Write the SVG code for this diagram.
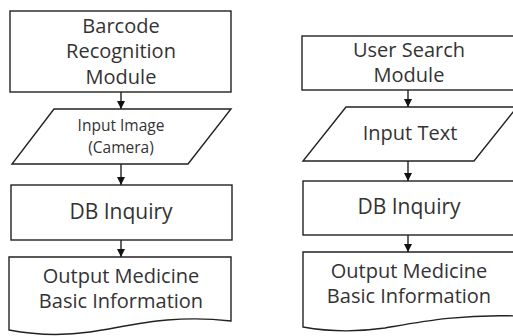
<svg xmlns="http://www.w3.org/2000/svg" width="513" height="336" viewBox="0 0 513 336">
<style>
.s{fill:#fff;stroke:#222;stroke-width:1.4}
.t{font-family:"Open Sans","Noto Sans",sans-serif;font-size:20px;fill:#333;text-anchor:middle}
.sm{font-size:15.5px}
.db{font-size:21px}
.c{stroke:#222;stroke-width:1.4;fill:none;marker-end:url(#a)}
</style>
<defs>
<marker id="a" viewBox="0 0 10 10" refX="10" refY="5" markerWidth="8" markerHeight="8" markerUnits="userSpaceOnUse" orient="auto">
<path d="M0,0 L10,5 L0,10 Z" fill="#111"/>
</marker>
</defs>
<rect width="513" height="336" fill="#fff"/>
<g id="barcode">
<rect class="s" x="10" y="11" width="221" height="81"/>
<text class="t" x="121" y="33">Barcode</text>
<text class="t" x="121" y="58">Recognition</text>
<text class="t" x="121" y="84">Module</text>
</g>
<g id="input-image">
<polygon class="s" points="54,109 231,109 188,164 12,164"/>
<text class="t sm" x="121" y="131">Input Image</text>
<text class="t sm" x="121" y="153">(Camera)</text>
</g>
<g id="db-left">
<rect class="s" x="11" y="185" width="221" height="55"/>
<text class="t db" x="121" y="219">DB Inquiry</text>
</g>
<g id="output-left">
<path class="s" d="M9,257 H231 V321 C170,314 130,326 90,332 C55,337 30,334 9,330 Z"/>
<text class="t" x="121" y="283">Output Medicine</text>
<text class="t" x="121" y="308">Basic Information</text>
</g>
<g id="user-search">
<rect class="s" x="302" y="36" width="214" height="54"/>
<text class="t" x="409" y="57">User Search</text>
<text class="t" x="409" y="82">Module</text>
</g>
<g id="input-text">
<polygon class="s" points="346,107 517,107 474,161 303,161"/>
<text class="t" x="410" y="140">Input Text</text>
</g>
<g id="db-right">
<rect class="s" x="303" y="181" width="214" height="54"/>
<text class="t db" x="409" y="214">DB Inquiry</text>
</g>
<g id="output-right">
<path class="s" d="M303,252 H517 V316 C460,314 420,322 385,328 C350,333 325,331 303,327 Z"/>
<text class="t" x="409" y="278">Output Medicine</text>
<text class="t" x="409" y="303">Basic Information</text>
</g>
<g id="connectors">
<line class="c" x1="121" y1="92" x2="121" y2="109"/>
<line class="c" x1="121" y1="164" x2="121" y2="185"/>
<line class="c" x1="121" y1="240" x2="121" y2="257"/>
<line class="c" x1="408" y1="90" x2="408" y2="107"/>
<line class="c" x1="408" y1="161" x2="408" y2="181"/>
<line class="c" x1="408" y1="235" x2="408" y2="252"/>
</g>
</svg>
